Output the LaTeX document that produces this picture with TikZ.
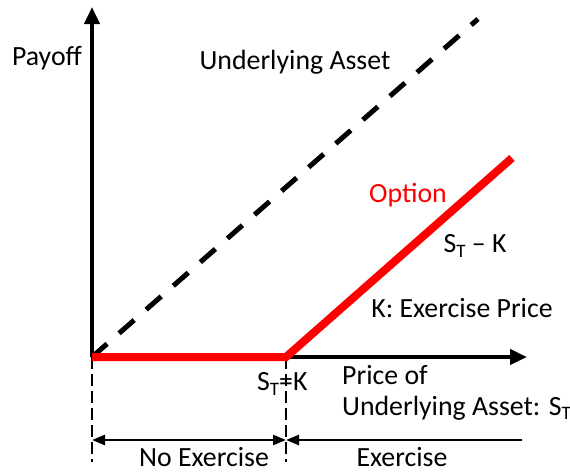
\documentclass[tikz,border=0pt]{standalone}
\usepackage{fontspec}
\setmainfont{Carlito}
\usetikzlibrary{arrows.meta}
\newcommand\subT{\raisebox{-0.35ex}{\fontsize{19}{19}\selectfont T}}
\begin{document}
\begin{tikzpicture}[x=1pt,y=-1pt,
  lbl/.style={inner sep=0pt,font=\fontsize{27.8}{33}\selectfont},
  axis/.style={line width=4pt,-{Triangle[length=17pt,width=15pt]}},
  dimarrow/.style={line width=2.5pt,{Triangle[length=13pt,width=10pt]}-{Triangle[length=13pt,width=10pt]}},
  guide/.style={line width=2pt,dash pattern=on 12pt off 5pt},
  asset/.style={line width=5pt,dash pattern=on 20pt off 16pt},
  option/.style={line width=8pt,red}]
\useasboundingbox (0,0) rectangle (570,474);
\coordinate (O) at (92,357);
\coordinate (K) at (286,357);
\coordinate (Ytop) at (92,7);
\coordinate (Xend) at (527,357);
\coordinate (Aend) at (478,19);
\coordinate (Oend) at (512,158);
\coordinate (Ob) at (92,462);
\coordinate (Kb) at (286,462);
\coordinate (Dl) at (92,440);
\coordinate (Dm) at (286,440);
\coordinate (Dr) at (522,440);
% guides
\draw[guide] (O) -- (Ob);
\draw[guide] (K) -- (Kb);
% dimension arrows
\draw[dimarrow] (Dl) -- (Dm);
\draw[line width=2.5pt,{Triangle[length=13pt,width=10pt]}-] (Dm) -- (Dr);
% asset line
\draw[asset] (O) -- (Aend);
% axes
\draw[axis] (O) -- (Ytop);
\draw[axis] (O) -- (Xend);
% option payoff
\draw[option] (O) -- (K) -- (Oend);
% labels
\node[lbl] (payoff) at (47,58) {Payoff};
\node[lbl] (ua) at (295,62) {Underlying Asset};
\node[lbl,text=red] (opt) at (408,195) {Option};
\node[lbl] (stk) at (475,246) {S\subT{} – K};
\node[lbl] (kex) at (462,308) {K: Exercise Price};
\node[lbl,anchor=west] (seqk) at (257,384) {S\subT{}=K};
\node[lbl,anchor=west] (pof) at (342,375) {Price of};
\node[lbl,anchor=west] (uas) at (342,408) {Underlying Asset: S\subT};
\node[lbl] (noex) at (204,457) {No Exercise};
\node[lbl] (ex) at (402,457) {Exercise};
\end{tikzpicture}
\end{document}
